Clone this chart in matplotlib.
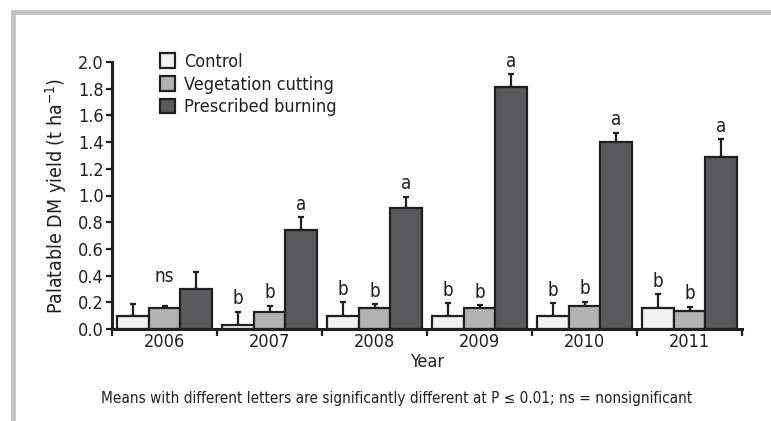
import matplotlib
matplotlib.use("Agg")
import matplotlib.pyplot as plt
from matplotlib.lines import Line2D
import numpy as np

plt.rcParams['font.family'] = ['DejaVu Sans']
plt.rcParams['font.stretch'] = 'condensed'

years = ["2006", "2007", "2008", "2009", "2010", "2011"]
series_names = ["Control", "Vegetation cutting", "Prescribed burning"]
control = [0.10, 0.03, 0.10, 0.10, 0.10, 0.16]
control_err = [0.09, 0.10, 0.10, 0.095, 0.095, 0.10]
veg = [0.155, 0.125, 0.16, 0.155, 0.175, 0.137]
veg_err = [0.02, 0.05, 0.025, 0.025, 0.03, 0.03]
burn = [0.30, 0.74, 0.91, 1.81, 1.40, 1.29]
burn_err = [0.13, 0.097, 0.08, 0.10, 0.07, 0.13]
letters_control = ["", "b", "b", "b", "b", "b"]
letters_veg = ["ns", "b", "b", "b", "b", "b"]
letters_burn = ["", "a", "a", "a", "a", "a"]
caption = "Means with different letters are significantly different at P \u2264 0.01; ns = nonsignificant"

colors = ["#f0f1f1", "#b1b2b4", "#58595b"]

fig = plt.figure(figsize=(7.71, 4.21), dpi=100)
ax = fig.add_axes([112/771, 1-329/421, 630/771, 267/421])

x = np.arange(len(years))
w = 0.3
data = [(control, control_err, letters_control),
        (veg, veg_err, letters_veg),
        (burn, burn_err, letters_burn)]
for i, (vals, errs, lets) in enumerate(data):
    pos = x + (i - 1) * w
    ax.bar(pos, vals, width=w, color=colors[i], edgecolor="#231f20",
           linewidth=1.6, label=series_names[i], zorder=3)
    ax.errorbar(pos, vals, yerr=[np.zeros(len(vals)), errs], fmt="none",
                ecolor="#231f20", elinewidth=1.6, capsize=2.5, capthick=1.6, zorder=2)
    for p, v, e, l in zip(pos, vals, errs, lets):
        if l:
            extra = 0.12 if l == "ns" else 0.0
            ax.text(p, v + e + 0.025 + extra, l, ha="center", va="bottom", fontsize=13.5,
                    color="#231f20")

ax.set_xlim(-0.5, 5.5)
ax.set_ylim(0, 2.0)
ax.set_yticks(np.arange(0, 2.01, 0.2))
ax.set_yticklabels([f"{v:.1f}" for v in np.arange(0, 2.01, 0.2)], fontsize=13)
ax.set_xticks(np.arange(-0.5, 5.6, 1.0))
ax.set_xticklabels([])
ax.set_xticks(x, minor=True)
ax.set_xticklabels(years, minor=True, fontsize=13)
ax.tick_params(axis="x", which="major", direction="out", length=5, width=1.6, colors="#231f20")
ax.tick_params(axis="x", which="minor", length=0, pad=3, labelcolor="#231f20")
ax.tick_params(axis="y", direction="out", length=4, width=1.6, colors="#231f20", pad=2)
for s in ["top", "right"]:
    ax.spines[s].set_visible(False)
for s in ["left", "bottom"]:
    ax.spines[s].set_linewidth(2.2)
    ax.spines[s].set_color("#231f20")

ax.set_ylabel("Palatable DM yield (t ha$^{-1}$)", fontsize=14, color="#231f20", labelpad=6)
ax.set_xlabel("Year", fontsize=13, color="#231f20", labelpad=1)

leg = ax.legend(loc="upper left", bbox_to_anchor=(0.065, 1.06), frameon=False,
                fontsize=13, handlelength=0.8, handleheight=0.9, handletextpad=0.5,
                labelspacing=0.25, borderaxespad=0)
for t in leg.get_texts():
    t.set_color("#231f20")

fig.text(397/771, 1-398/421, caption, ha="center", va="center", fontsize=11, color="#231f20")

fig.add_artist(Line2D([13/771, 1.0], [1-12/421, 1-12/421], color="#c4c4c4", linewidth=3.5,
                      transform=fig.transFigure))
fig.add_artist(Line2D([13/771, 13/771], [0, 1-12/421], color="#c4c4c4", linewidth=3.5,
                      transform=fig.transFigure))

fig.savefig("out.png", dpi=100)
